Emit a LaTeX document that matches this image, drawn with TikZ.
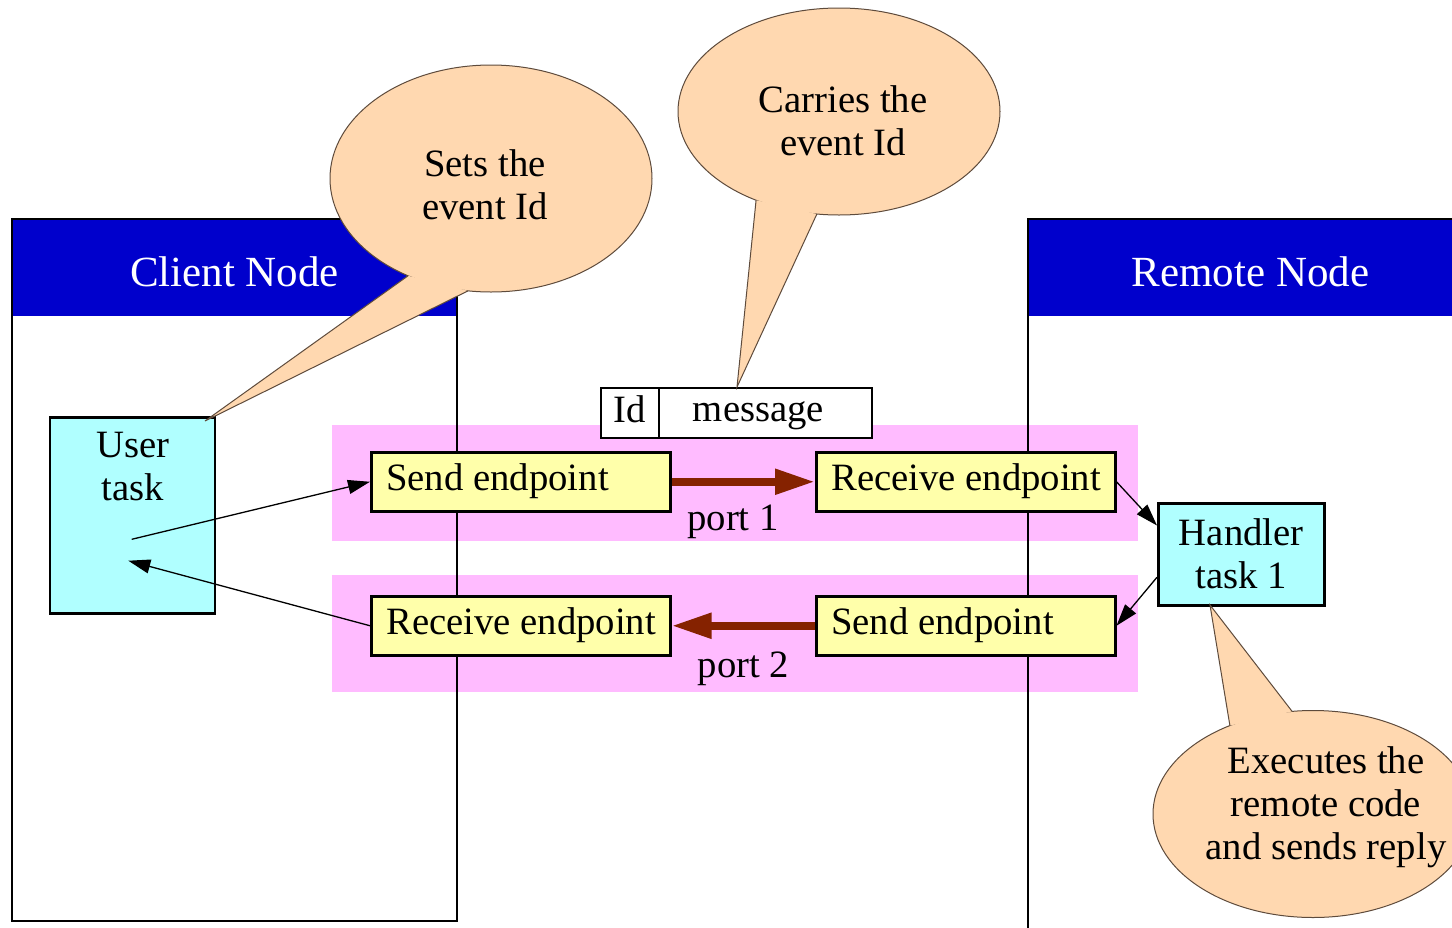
\documentclass[tikz,border=0pt]{standalone}
\usepackage{fontspec}
\setmainfont{Liberation Serif}
\usetikzlibrary{arrows.meta,calc}

\definecolor{headblue}{HTML}{0000CC}
\definecolor{bandpink}{HTML}{FFBBFF}
\definecolor{epyellow}{HTML}{FFFFAA}
\definecolor{taskcyan}{HTML}{B0FFFF}
\definecolor{calloutfill}{HTML}{FFD8B0}
\definecolor{calloutedge}{HTML}{5E4B3C}
\definecolor{portred}{HTML}{852200}

% speech bubble: centre, x radius, y radius, tail angle A, tail angle B, tail tip
\newcommand{\bubble}[6]{%
  \filldraw[fill=calloutfill, draw=calloutedge, line width=1pt]
    (#1) ellipse [x radius=#2pt, y radius=#3pt];
  \fill[calloutfill]
    ($(#1)+({#2*cos(#4)},{#3*sin(#4)})$) -- (#6) --
    ($(#1)+({#2*cos(#5)},{#3*sin(#5)})$) -- cycle;
  \draw[calloutedge, line width=1pt]
    ($(#1)+({#2*cos(#4)},{#3*sin(#4)})$) -- (#6) --
    ($(#1)+({#2*cos(#5)},{#3*sin(#5)})$);
}
% left-set endpoint caption of fixed width
\newcommand{\eplabel}[1]{\makebox[269pt][l]{#1}}

\begin{document}
\begin{tikzpicture}[x=1pt, y=-1pt,
  txt/.style={font=\fontsize{38.7}{43}\selectfont},
  headtxt/.style={font=\fontsize{43}{48}\selectfont, text=white},
  oneline/.style={text height=27pt, text depth=9pt, inner ysep=0pt},
  endpoint/.style={txt, oneline, draw, line width=2.5pt, fill=epyellow,
    minimum width=299pt, minimum height=59pt,
    inner xsep=15pt, anchor=north west},
  taskbox/.style={draw, line width=2.5pt, fill=taskcyan, anchor=north west,
    inner sep=0pt},
  field/.style={draw, line width=2pt, fill=white, anchor=north west,
    minimum height=50pt, inner xsep=0pt},
  portarrow/.style={draw=portred, line width=8pt,
    -{Triangle[length=40pt, width=24pt]}},
  flow/.style={line width=1.3pt, -{Triangle[length=22pt, width=14pt]}},
  frame/.style={line width=2.5pt}
]
\useasboundingbox (0,0) rectangle (1452,927);
\clip (0,0) rectangle (1452,927);
\fill[white] (0,0) rectangle (1452,927);

% port bands
\fill[bandpink] (332,425) rectangle (1138,541);
\fill[bandpink] (332,575) rectangle (1138,692);

% node frames with title bars
\fill[headblue] (12,219) rectangle (457,316);
\draw[frame] (12,219) rectangle (457,921);
\fill[headblue] (1028,219) rectangle (1473,316);
\draw[frame] (1028,219) rectangle (1473,1000);
\node[headtxt] (clienthead) at (234.5,271.3) {Client Node};
\node[headtxt] (remotehead) at (1250.5,271.3) {Remote Node};

% message layout
\node[field, txt, oneline, minimum width=58pt] (idfield) at (600,387) {Id};
\node[field, minimum width=213pt] (msgfield) at (658,387) {};
\node[txt, anchor=base] (msgtext) at (758.5,421) {message};

% endpoints
\node[endpoint] (send1) at (370,451) {\eplabel{Send endpoint}};
\node[endpoint] (recv1) at (815,451) {\eplabel{Receive endpoint}};
\node[endpoint] (recv2) at (370,595) {\eplabel{Receive endpoint}};
\node[endpoint] (send2) at (815,595) {\eplabel{Send endpoint}};

% tasks
\node[taskbox, minimum width=165pt, minimum height=196pt] (usertask) at (48.5,416) {};
\node[txt, align=center] (usertasklabel) at (133,467) {User\\task};
\node[taskbox, txt, align=center, minimum width=166pt, minimum height=102pt]
  (handler) at (1157,502) {Handler\\task 1};

% connectors
\coordinate (userout) at (131.7,539.3);
\coordinate (userin) at (128.3,560.7);
\draw[flow] (userout) -- (send1.west);
\draw[flow] (recv2.west) -- (userin);
\draw[flow] (recv1.east) -- ($(handler.north west)!0.225!(handler.south west)$);
\draw[flow] ($(handler.north west)!0.72!(handler.south west)$) -- (send2.east);

\draw[portarrow] (send1.east) -- (recv1.west);
\draw[portarrow] (send2.west) -- (recv2.east);
\node[txt, anchor=base] (port1) at (733,530) {port 1};
\node[txt, anchor=base] (port2) at (743.5,677) {port 2};

% remarks
\coordinate (c1) at (491,178.5);
\coordinate (tip1) at (205,421);
\bubble{c1}{161}{113.5}{121}{98.2}{tip1}
\node[txt, align=center] (note1) at (485,184.3) {Sets the\\event Id};

\coordinate (c2) at (839,111.5);
\coordinate (tip2) at (737,387);
\bubble{c2}{161}{103.5}{121}{97.9}{tip2}
\node[txt, align=center] (note2) at (843,120.3) {Carries the\\event Id};

\coordinate (c3) at (1313,814);
\coordinate (tip3) at (1210,605);
\bubble{c3}{160}{103.5}{-121.3}{-97.5}{tip3}
\node[txt, align=center] (note3) at (1326,807) {Executes the\\remote code\\and sends reply};
\end{tikzpicture}
\end{document}
